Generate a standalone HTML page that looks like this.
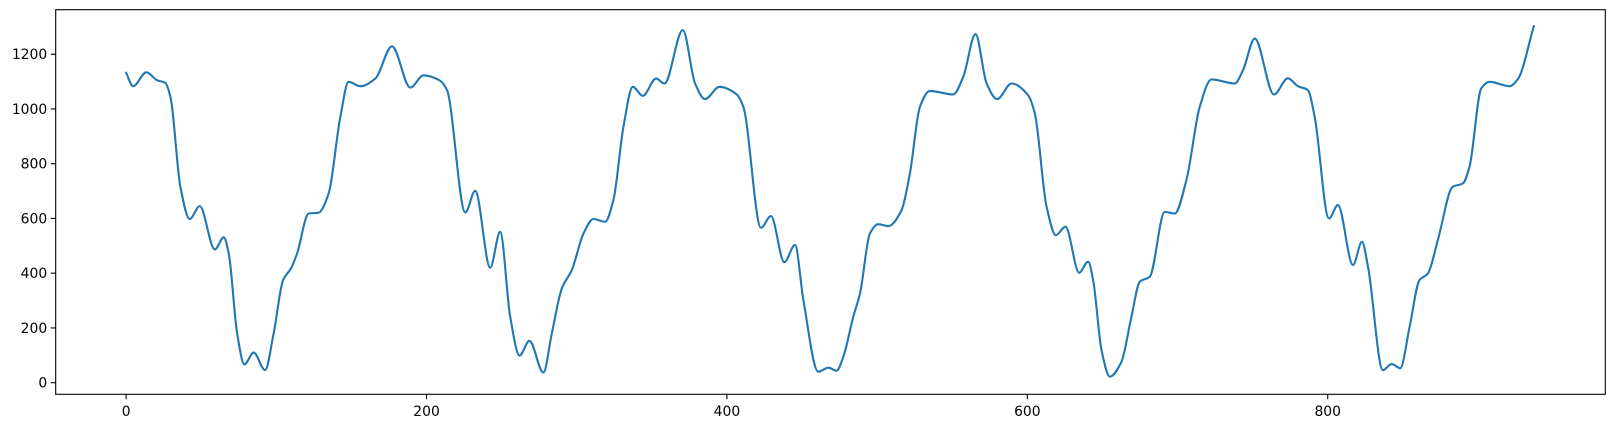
<!DOCTYPE html>
<html><head><meta charset="utf-8"><style>
html,body{margin:0;padding:0;background:#fff;}
svg{display:block;font-family:"DejaVu Sans","Liberation Sans",sans-serif;}
</style></head><body>
<svg id="chart" width="1614" height="428" xmlns="http://www.w3.org/2000/svg"></svg>
<script>
const xs=[0,4.6,13.5,20.6,26.1,29.5,36.1,42.3,49,59,65,68.3,73.9,78.7,84.9,92.5,98.2,104.5,109.8,113.8,121.5,128.1,134.8,142.6,148.1,155.9,165.9,177,189.2,198,209.1,213.6,225.8,232.4,242.4,249,255.7,261.9,268.5,277.8,283.4,290.1,296.7,304.5,311.1,318.9,324.4,331.1,337.3,344,352.8,358.4,370.6,378.8,385.4,395,406.5,410.9,422.7,429.3,438.2,445.3,450.9,460.8,467.5,473,477.5,484.1,488.6,495.2,500.7,507.4,516.3,521.8,528.5,535.1,550.6,557.3,565.5,572.9,579.9,589.5,600.5,605,612.8,619,625.4,634.5,640.5,643.8,649.4,654.9,662.7,669.3,674.9,681.5,691.5,698.1,705.9,714.8,722.6,738.1,743.6,751.4,764.2,773.5,780.2,786.8,791.3,800.8,806.8,816.8,822.8,826.8,836.7,842.5,848.3,854.5,861.1,866.7,873.3,883.3,890,894.4,902.2,907.7,921,926.5,937.2];
const ys=[1132,1083,1134,1105,1095,1044,716,598,645,487,531,472,180,67,110,46,180,375,418,472,618,621,691,971,1099,1083,1111,1229,1078,1123,1103,1069,622,701,420,551,241,99,153,37,180,345,411,545,598,588,667,935,1081,1048,1111,1093,1288,1093,1036,1081,1053,1008,566,609,440,503,302,40,55,44,95,241,326,545,579,572,631,764,1008,1066,1053,1117,1273,1093,1036,1093,1050,983,643,539,570,402,442,375,119,22,77,241,369,387,624,618,740,1008,1108,1093,1142,1257,1053,1112,1083,1069,971,600,649,430,515,424,46,68,53,204,375,399,521,716,728,789,1075,1099,1083,1108,1302];
const xTicks=[0,200,400,600,800];
const yTicks=[0,200,400,600,800,1000,1200];

const NS='http://www.w3.org/2000/svg';
const svg=document.getElementById('chart');
const L=55.7,R=1605.3,T=9.7,B=394.3;
const xMin=-46.9,xMax=984.8,yMin=-42.4,yMax=1362.6;
function sx(v){return L+(v-xMin)/(xMax-xMin)*(R-L);}
function sy(v){return B-(v-yMin)/(yMax-yMin)*(B-T);}
function mk(tag,attrs){const e=document.createElementNS(NS,tag);for(const k in attrs)e.setAttribute(k,attrs[k]);svg.appendChild(e);return e;}

// series: monotone cubic (Fritsch-Carlson) through points in pixel space
const X=xs.map(sx),Y=ys.map(sy),n=X.length;
const dl=[],m=[];
for(let i=0;i<n-1;i++)dl.push((Y[i+1]-Y[i])/(X[i+1]-X[i]));
m[0]=dl[0];m[n-1]=dl[n-2];
for(let i=1;i<n-1;i++){
  if(dl[i-1]*dl[i]<=0)m[i]=0;
  else{const h0=X[i]-X[i-1],h1=X[i+1]-X[i];const w1=2*h1+h0,w2=h1+2*h0;m[i]=(w1+w2)/(w1/dl[i-1]+w2/dl[i]);}
}
let d='M'+X[0].toFixed(2)+','+Y[0].toFixed(2);
for(let i=0;i<n-1;i++){
  const h=(X[i+1]-X[i])/3;
  d+=' C'+(X[i]+h).toFixed(2)+','+(Y[i]+m[i]*h).toFixed(2)+' '+(X[i+1]-h).toFixed(2)+','+(Y[i+1]-m[i+1]*h).toFixed(2)+' '+X[i+1].toFixed(2)+','+Y[i+1].toFixed(2);
}
const line=mk('path',{d:d,fill:'none',stroke:'#1f77b4','stroke-width':2.1,'stroke-linejoin':'round','stroke-linecap':'square'});



// frame
const frame=mk('rect',{x:L,y:T,width:R-L,height:B-T,fill:'none',stroke:'#000','stroke-width':1.1});



xTicks.forEach(v=>{
  const x=sx(v);
  const tk=mk('line',{x1:x,x2:x,y1:B,y2:B+4.9,stroke:'#000','stroke-width':1.1});
  
  
  const tx=mk('text',{x:x,y:B+21.5,'text-anchor':'middle','font-size':'13.9px',fill:'#000'});
  tx.textContent=v;
  
  
});
yTicks.forEach(v=>{
  const y=sy(v);
  const tk=mk('line',{x1:L-4.9,x2:L,y1:y,y2:y,stroke:'#000','stroke-width':1.1});
  
  
  const tx=mk('text',{x:L-8.5,y:y+5,'text-anchor':'end','font-size':'13.9px',fill:'#000'});
  tx.textContent=v;
  
  
});
</script>
</body></html>
